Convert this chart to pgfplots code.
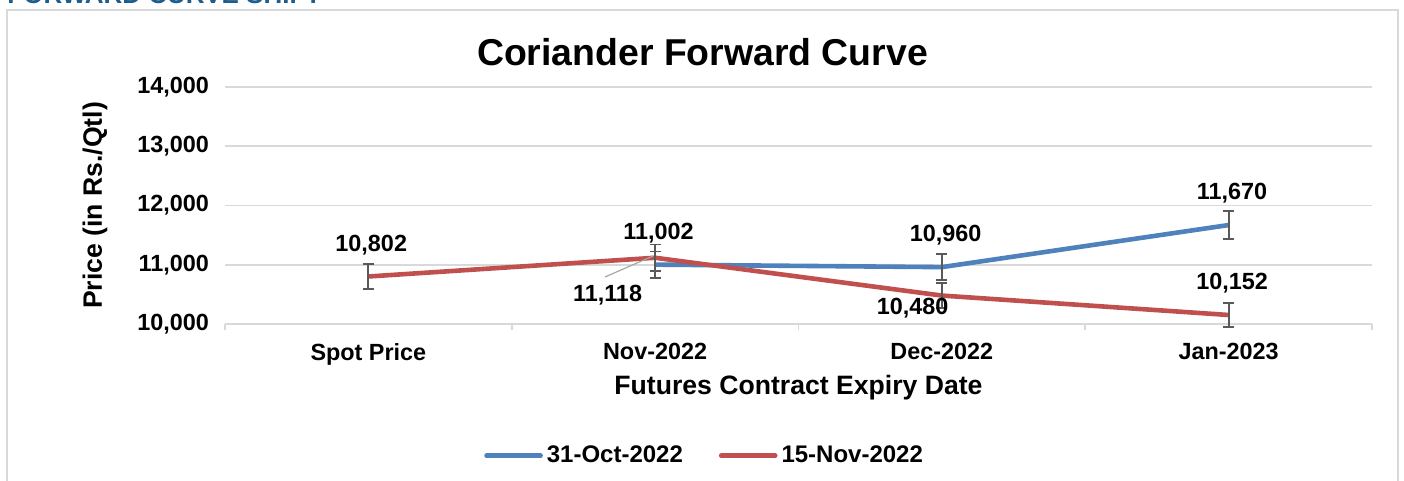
\documentclass[border=0pt]{standalone}
\usepackage{fontspec}
\setmainfont{Liberation Sans}
\usepackage{pgfplots}
\pgfplotsset{compat=1.18}
\definecolor{serblue}{RGB}{79,129,189}
\definecolor{serred}{RGB}{192,80,77}
\definecolor{gridgray}{RGB}{217,217,217}
\definecolor{errgray}{RGB}{89,89,89}
\definecolor{leadgray}{RGB}{166,166,166}
\definecolor{hdrblue}{RGB}{31,94,140}
\tikzset{lbl/.style={font=\fontsize{11.7}{14}\selectfont\bfseries, inner sep=0pt}}
\begin{document}
\begin{tikzpicture}
\path[use as bounding box] (0,0) rectangle (702pt,-240.5pt);
\clip (0,0) rectangle (702pt,-240.5pt);
\node[anchor=base west, inner sep=0pt, font=\fontsize{13}{15}\selectfont\bfseries, text=hdrblue] at (3.5pt,-2pt) {FORWARD CURVE SHIFT};
\draw[gridgray, line width=0.8pt] (3.5pt,-5pt) rectangle (699pt,-260pt);
\node[font=\fontsize{18.7}{22}\selectfont\bfseries] at (351.25pt,-26pt) {Coriander Forward Curve};
\node[rotate=90, font=\fontsize{13.3}{16}\selectfont\bfseries] at (47.5pt,-102.75pt) {Price (in Rs./Qtl)};
\node[font=\fontsize{13.3}{16}\selectfont\bfseries] at (399.25pt,-194pt) {Futures Contract Expiry Date};
\begin{axis}[
  at={(112.5pt,-162pt)}, anchor=south west,
  scale only axis, width=573.5pt, height=118.5pt,
  xmin=-0.5, xmax=3.5, ymin=10000, ymax=14000,
  clip=false,
  axis lines*=left,
  y axis line style={draw=none},
  x axis line style={draw=gridgray, line width=0.8pt},
  ymajorgrids, grid style={draw=gridgray, line width=0.8pt},
  xtick={0,1,2,3},
  xticklabels={Spot Price, Nov-2022, Dec-2022, Jan-2023},
  minor xtick={-0.5,0.5,1.5,2.5,3.5},
  ytick={10000,11000,12000,13000,14000},
  major tick length=0pt, minor tick length=3pt, tick align=outside,
  minor tick style={draw=gridgray, line width=0.8pt},
  scaled y ticks=false,
  /pgf/number format/.cd, 1000 sep={,}, assume math mode=true,
  /pgfplots/.cd,
  ticklabel style={font=\fontsize{11.7}{14}\selectfont\bfseries},
  xticklabel style={yshift=-6pt},
  yticklabel style={xshift=-4.5pt},
  legend columns=2,
  legend style={at={(0.419,-0.556)}, anchor=center, draw=none, fill=none,
    font=\fontsize{12}{14}\selectfont\bfseries,
    /tikz/every even column/.append style={column sep=16pt},
    inner sep=0pt},
  legend cell align=left,
  legend image code/.code={\draw[#1, line cap=round] (0pt,0pt) -- (27pt,0pt);},
]
\addplot[serblue, line width=2.3pt, error bars/.cd, y dir=both, y fixed relative=0.02,
  error bar style={errgray, line width=0.9pt},
  error mark options={rotate=90, errgray, line width=0.9pt, mark size=2.7pt}]
  coordinates {(1,11002) (2,10960) (3,11670)};
\addlegendentry{31-Oct-2022}
\addplot[serred, line width=2.3pt, error bars/.cd, y dir=both, y fixed relative=0.02,
  error bar style={errgray, line width=0.9pt},
  error mark options={rotate=90, errgray, line width=0.9pt, mark size=2.7pt}]
  coordinates {(0,10802) (1,11118) (2,10480) (3,10152)};
\addlegendentry{15-Nov-2022}
\draw[leadgray, line width=0.6pt] (axis cs:0.825,10793) -- (axis cs:0.993,11148);
\node[lbl] at (axis cs:0.01,11333) {10,802};
\node[lbl] at (axis cs:1.012,11536) {11,002};
\node[lbl] at (axis cs:0.834,10489) {11,118};
\node[lbl] at (axis cs:2.013,11502) {10,960};
\node[lbl] at (axis cs:1.898,10270) {10,480};
\node[lbl] at (axis cs:3.012,12211) {11,670};
\node[lbl] at (axis cs:3.012,10692) {10,152};
\end{axis}
\end{tikzpicture}
\end{document}
